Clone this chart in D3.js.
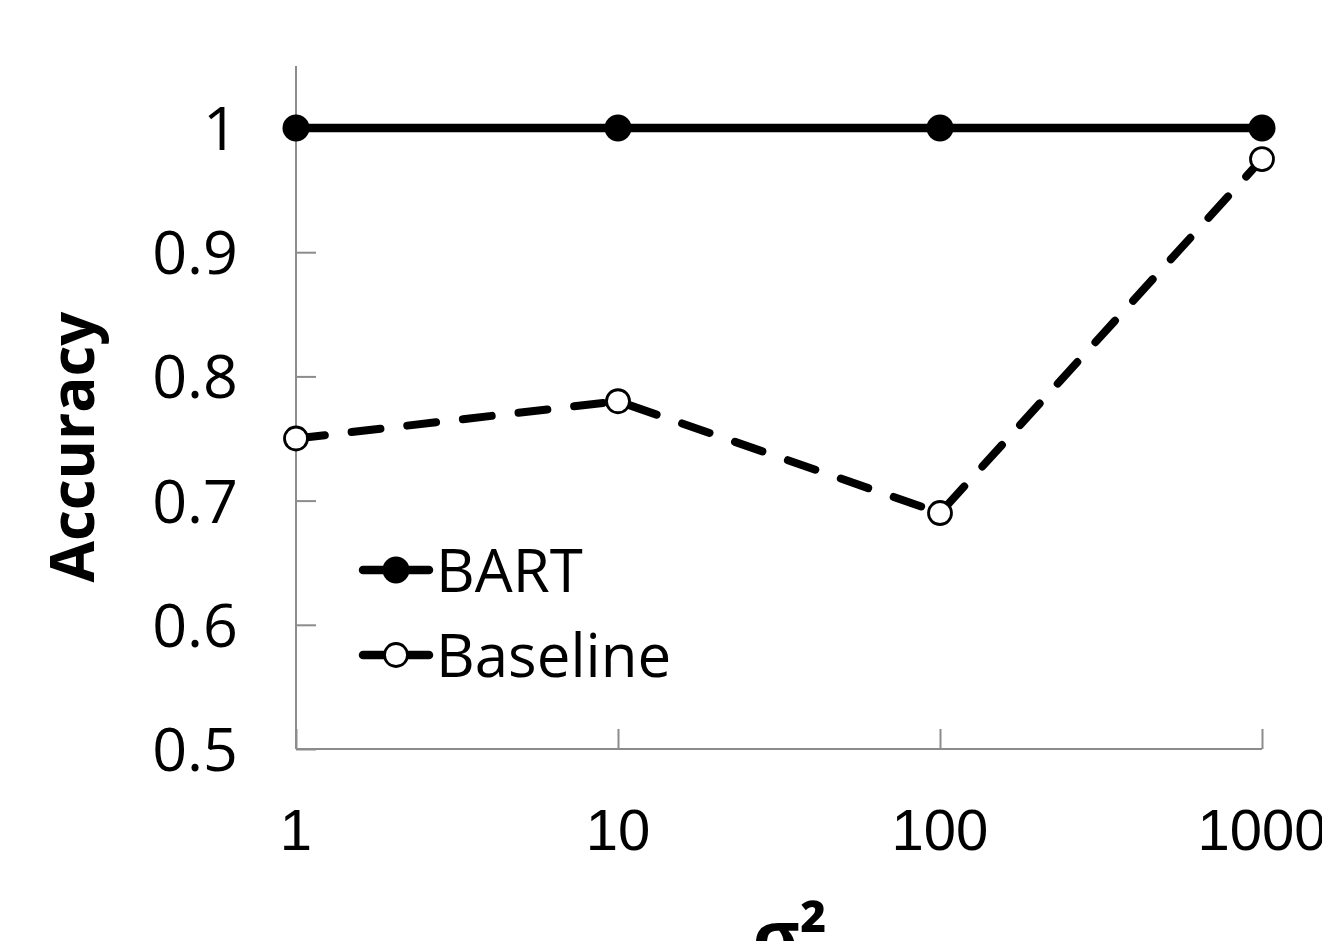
<!DOCTYPE html>
<html><head><meta charset="utf-8">
<script src="https://cdn.jsdelivr.net/npm/d3@7"></script>
<style>body{margin:0;background:#fff;overflow:hidden}</style>
</head><body>
<script>
const xValues = [1, 10, 100, 1000];
const xTickLabels = ["1", "10", "100", "1000"];
const bartValues = [1, 1, 1, 1];
const baselineValues = [0.75, 0.78, 0.69, 0.975];
const yTicks = [0.5, 0.6, 0.7, 0.8, 0.9, 1];
const yTickLabels = ["0.5", "0.6", "0.7", "0.8", "0.9", "1"];
const seriesNames = ["BART", "Baseline"];

const W = 1322, H = 941;
const svg = d3.select("body").append("svg").attr("width", W).attr("height", H);
const x = d3.scaleLog().domain([1, 1000]).range([296, 1262]);
const y = d3.scaleLinear().domain([0.5, 1]).range([749, 128]);
const axisColor = "#8c8c8c";
const humanFont = "'Open Sans', 'Noto Sans', sans-serif";

// axes
const ya = svg.append("g").attr("transform", "translate(296,0)")
  .call(d3.axisRight(y).tickValues(yTicks).tickSize(20).tickFormat(""));
ya.selectAll("path,line").attr("stroke", axisColor).attr("stroke-width", 2);
ya.select(".domain").attr("d", `M0,${y(0.5)}V66`);
const xa = svg.append("g").attr("transform", "translate(0,749)")
  .call(d3.axisTop(x).tickValues(xValues).tickSize(20).tickFormat(""));
xa.selectAll("path,line").attr("stroke", axisColor).attr("stroke-width", 2);
xa.select(".domain").attr("d", `M296,0H1262`);

// y tick labels
svg.append("g").selectAll("text").data(yTicks).join("text")
  .attr("x", 238).attr("y", d => y(d)).attr("dy", "0.36em")
  .attr("text-anchor", "end").attr("font-family", humanFont).attr("font-size", 61)
  .attr("fill", "#000").text((d, i) => yTickLabels[i]);
// x tick labels
svg.append("g").selectAll("text").data(xValues).join("text")
  .attr("x", d => x(d)).attr("y", 850)
  .attr("text-anchor", "middle").attr("font-family", "'Liberation Sans', Arial, sans-serif").attr("font-size", 58)
  .attr("fill", "#000").text((d, i) => xTickLabels[i]);

// axis titles
svg.append("text").attr("transform", "translate(94,447) rotate(-90)")
  .attr("text-anchor", "middle").attr("font-family", humanFont).attr("font-weight", "bold")
  .attr("font-size", 60).text("Accuracy");
svg.append("text").attr("x", 790).attr("y", 962).attr("text-anchor", "middle")
  .attr("font-family", humanFont).attr("font-weight", "bold").attr("font-size", 72)
  .text("σ²");

const line = d3.line().x(d => x(d[0])).y(d => y(d[1]));
const bart = xValues.map((v, i) => [v, bartValues[i]]);
const base = xValues.map((v, i) => [v, baselineValues[i]]);

svg.append("path").attr("d", line(base)).attr("fill", "none").attr("stroke", "#000")
  .attr("stroke-width", 8).attr("stroke-dasharray", "29,27").attr("stroke-linecap", "round");
svg.append("path").attr("d", line(bart)).attr("fill", "none").attr("stroke", "#000")
  .attr("stroke-width", 8.5);

svg.append("g").selectAll("circle").data(bart).join("circle")
  .attr("cx", d => x(d[0])).attr("cy", d => y(d[1])).attr("r", 13.5).attr("fill", "#000");
svg.append("g").selectAll("circle").data(base).join("circle")
  .attr("cx", d => x(d[0])).attr("cy", d => y(d[1])).attr("r", 11.5)
  .attr("fill", "#fff").attr("stroke", "#000").attr("stroke-width", 2.8);

// legend
const leg = svg.append("g");
const legY = [570, 655];
seriesNames.forEach((name, i) => {
  const g = leg.append("g").attr("transform", `translate(0,${legY[i]})`);
  g.append("line").attr("x1", 363).attr("x2", 429).attr("y1", 0).attr("y2", 0)
    .attr("stroke", "#000").attr("stroke-width", 8.5).attr("stroke-linecap", "round");
  g.append("circle").attr("cx", 396).attr("cy", 0).attr("r", i === 0 ? 13.5 : 11.5)
    .attr("fill", i === 0 ? "#000" : "#fff").attr("stroke", "#000").attr("stroke-width", i === 0 ? 0 : 2.8);
  g.append("text").attr("x", 436).attr("y", 0).attr("dy", "0.36em")
    .attr("font-family", humanFont).attr("font-size", 60).text(name);
});
</script>
</body></html>
